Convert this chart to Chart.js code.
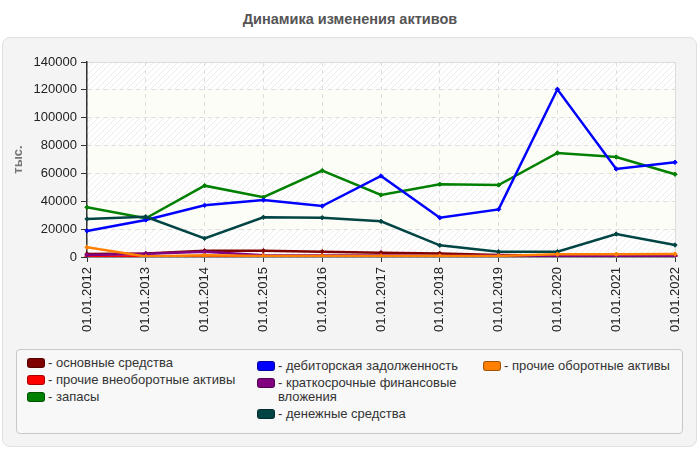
<!DOCTYPE html>
<html lang="ru">
<head>
<meta charset="utf-8">
<script src="https://cdn.jsdelivr.net/npm/chart.js@4.4.1/dist/chart.umd.min.js"></script>
<style>
  body { margin: 0; background: #fff; font-family: "Liberation Sans", Arial, sans-serif; }
  #wrap { position: relative; width: 700px; height: 450px; }
  #title { position: absolute; left: 0; top: 11px; width: 700px; text-align: center;
           font-weight: bold; font-size: 14.5px; color: #555; }
  #box { position: absolute; left: 2px; top: 37px; width: 693px; height: 408px;
         background: #f4f4f4; border: 1px solid #e0e0e0; border-radius: 8px; }
  #chart { position: absolute; left: 0; top: 0; }
  #legend { position: absolute; left: 16px; top: 349px; width: 665px; height: 83px;
            background: #f8f8f8; border: 1px solid #c8c8c8; border-radius: 4px;
            font-size: 13px; color: #333; }
  .col { position: absolute; top: 6px; }
  .item { display: flex; align-items: flex-start; line-height: 14px; margin-bottom: 3px; }
  .sw { width: 16px; height: 8px; border-radius: 3px; border: 1px solid rgba(0,0,0,0.35);
        margin-top: 2px; margin-right: 3px; flex: none; }
</style>
</head>
<body>
<div id="wrap">
  <div id="title">Динамика изменения активов</div>
  <div id="box"></div>
  <canvas id="chart" width="700" height="345"></canvas>
  <div id="legend"></div>
</div>
<script>
const labels = ['01.01.2012', '01.01.2013', '01.01.2014', '01.01.2015', '01.01.2016', '01.01.2017',
                '01.01.2018', '01.01.2019', '01.01.2020', '01.01.2021', '01.01.2022'];

const fixedAssets = [2200, 2500, 4500, 4500, 3800, 3100, 2600, 1400, 1000, 1000, 1000];
const otherNonCurrent = [400, 300, 300, 300, 300, 300, 300, 300, 300, 300, 300];
const inventory = [35700, 27800, 51200, 42900, 62000, 44500, 52200, 51700, 74700, 71800, 59400];
const receivables = [18700, 26600, 37100, 40900, 36600, 58200, 28200, 34200, 120400, 63200, 68000];
const shortInvest = [1400, 2300, 3700, 1200, 1000, 1000, 800, 1000, 800, 800, 800];
const cash = [27300, 28900, 13400, 28500, 28200, 25600, 8400, 3800, 3800, 16500, 8600];
const otherCurrent = [7000, 400, 1200, 800, 800, 800, 800, 800, 2000, 2000, 2100];

const yTicks = [0, 20000, 40000, 60000, 80000, 100000, 120000, 140000];

const series = [
    { name: 'основные средства', data: fixedAssets, color: '#800000', col: 0 },
    { name: 'прочие внеоборотные активы', data: otherNonCurrent, color: '#ff0000', col: 0 },
    { name: 'запасы', data: inventory, color: '#008000', col: 0 },
    { name: 'дебиторская задолженность', data: receivables, color: '#0000ff', col: 1 },
    { name: 'краткосрочные финансовые вложения', data: shortInvest, color: '#800080', col: 1 },
    { name: 'денежные средства', data: cash, color: '#004444', col: 1 },
    { name: 'прочие оборотные активы', data: otherCurrent, color: '#ff8000', col: 2 }
];

// legend in three columns
const legend = document.getElementById('legend');
const colLeft = [10, 240, 466];
const colWidth = [225, 216, 195];
const colTop = [6, 9, 9];
const cols = colLeft.map((left, i) => {
    const c = document.createElement('div');
    c.className = 'col';
    c.style.left = left + 'px';
    c.style.top = colTop[i] + 'px';
    c.style.width = colWidth[i] + 'px';
    legend.appendChild(c);
    return c;
});
series.forEach(s => {
    const item = document.createElement('div');
    item.className = 'item';
    const sw = document.createElement('span');
    sw.className = 'sw';
    sw.style.background = s.color;
    const txt = document.createElement('span');
    txt.textContent = '- ' + s.name;
    item.appendChild(sw);
    item.appendChild(txt);
    cols[s.col].appendChild(item);
});

// hatch pattern for the plot background
const pat = document.createElement('canvas');
pat.width = 6; pat.height = 6;
const pctx = pat.getContext('2d');
pctx.fillStyle = '#ffffff';
pctx.fillRect(0, 0, 6, 6);
pctx.strokeStyle = '#ececec';
pctx.lineWidth = 1;
pctx.beginPath();
pctx.moveTo(0, 6); pctx.lineTo(6, 0);
pctx.moveTo(-1, 1); pctx.lineTo(1, -1);
pctx.moveTo(5, 7); pctx.lineTo(7, 5);
pctx.stroke();

const bandsPlugin = {
    id: 'bands',
    beforeDraw(chart) {
        const { ctx, chartArea, scales: { y } } = chart;
        const hatch = ctx.createPattern(pat, 'repeat');
        ctx.save();
        for (let i = 0; i < yTicks.length - 1; i++) {
            const top = y.getPixelForValue(yTicks[i + 1]);
            const bottom = y.getPixelForValue(yTicks[i]);
            ctx.fillStyle = i % 2 === 0 ? hatch : '#fdfdf8';
            ctx.fillRect(chartArea.left, top, chartArea.right - chartArea.left, bottom - top);
        }
        ctx.strokeStyle = '#dcdcdc';
        ctx.lineWidth = 1;
        ctx.beginPath();
        ctx.moveTo(chartArea.left, chartArea.top + 0.5);
        ctx.lineTo(chartArea.right + 0.5, chartArea.top + 0.5);
        ctx.lineTo(chartArea.right + 0.5, chartArea.bottom);
        ctx.stroke();
        ctx.restore();
    }
};

const ctx = document.getElementById('chart').getContext('2d');
new Chart(ctx, {
    type: 'line',
    data: {
        labels: labels,
        datasets: series.map(s => ({
            label: s.name,
            data: s.data,
            borderColor: s.color,
            backgroundColor: s.color,
            borderWidth: 2.5,
            pointStyle: 'rectRot',
            pointRadius: 2.2,
            pointBorderWidth: 1,
            tension: 0,
            fill: false
        })).reverse()
    },
    options: {
        responsive: false,
        animation: false,
        layout: { padding: { left: 0, top: 62, right: 25, bottom: 0 } },
        plugins: {
            legend: { display: false },
            tooltip: { enabled: false }
        },
        scales: {
            x: {
                afterFit: scale => { scale.height = 88; },
                grid: {
                    color: '#dddddd',
                    tickColor: '#333333',
                    tickBorderDash: [],
                    tickLength: 5,
                    offset: false
                },
                border: { color: '#333333', width: 1.5, dash: [4, 4] },
                ticks: {
                    color: '#222222',
                    font: { family: 'Liberation Sans', size: 13 },
                    minRotation: 90,
                    maxRotation: 90,
                    padding: 5
                }
            },
            y: {
                min: 0,
                max: 140000,
                afterFit: scale => { scale.width = 87; },
                afterBuildTicks: scale => { scale.ticks = yTicks.map(v => ({ value: v })); },
                grid: {
                    color: '#dddddd',
                    tickColor: '#333333',
                    tickBorderDash: [],
                    tickLength: 6
                },
                border: { color: '#333333', width: 1.5, dash: [4, 4] },
                ticks: {
                    color: '#222222',
                    font: { family: 'Liberation Sans', size: 13 },
                    padding: 4,
                    callback: v => String(v)
                },
                title: {
                    display: true,
                    text: 'тыс.',
                    color: '#777777',
                    font: { family: 'Liberation Sans', size: 13, weight: 'bold' },
                    padding: { top: 11, bottom: 0 }
                }
            }
        }
    },
    plugins: [bandsPlugin]
});
</script>
</body>
</html>
